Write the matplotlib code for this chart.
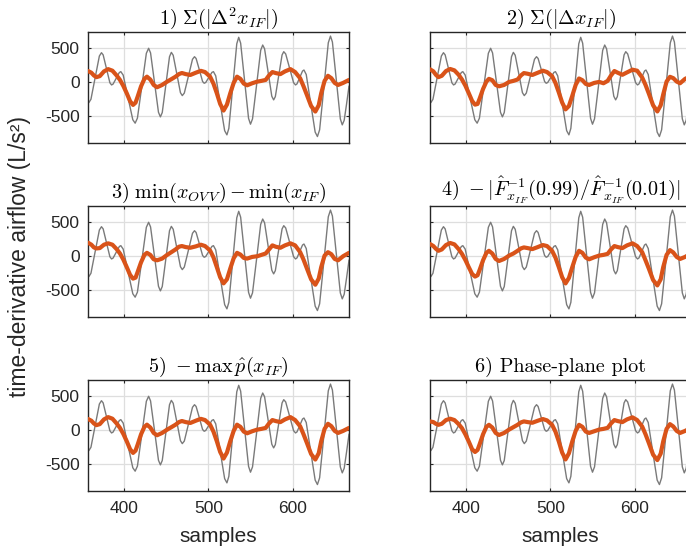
import matplotlib
matplotlib.use("Agg")
import matplotlib.pyplot as plt

plt.rcParams['font.family'] = ['Liberation Sans', 'DejaVu Sans']
plt.rcParams['mathtext.fontset'] = 'cm'
plt.rcParams['axes.unicode_minus'] = False

# ---------------- data ----------------
titles = [
    r'$1)\ \Sigma(|\Delta^2 x_{IF}|)$',
    r'$2)\ \Sigma(|\Delta x_{IF}|)$',
    r'$3)\ \min(x_{OV\,V}) - \min(x_{IF})$',
    r'$4)\ -|\hat{F}^{-1}_{x_{IF}}(0.99)/\hat{F}^{-1}_{x_{IF}}(0.01)|$',
    r'$5)\ -\max\,\hat{p}(x_{IF})$',
    '6) Phase-plane plot',
]

gray_x = [357, 358, 360.5, 365.5, 370.5, 373, 375, 379, 383, 385, 386.8, 390.5, 394.2, 396,
          398.8, 404.5, 410.2, 413, 415.7, 421, 426.3, 429, 431.3, 436, 440.7, 443, 445.2,
          449.5, 453.8, 456, 458.2, 462.5, 466.8, 469, 471.4, 476.3, 481.1, 483.5, 485.4,
          489.3, 493.1, 495, 496.8, 500.5, 504.2, 506, 508.7, 514, 519.3, 522, 524.3, 529,
          533.7, 536, 538.3, 543, 547.7, 550, 552.4, 557.3, 562.1, 564.5, 566.7, 571, 575.3,
          577.5, 579.5, 583.5, 587.5, 589.5, 591.8, 596.5, 601.2, 603.5, 605.2, 608.5, 611.8,
          613.5, 616.2, 621.5, 626.8, 629.5, 632.1, 637.3, 642.4, 645, 647.3, 652, 656.7, 659,
          661.3, 664, 667]
gray_y = [-298, -300, -251, 68, 386, 435, 403, 198, -8, -40, -27, 58, 143, 156,
          105, -224, -552, -603, -529, -52, 426, 500, 432, -5, -442, -510, -446,
          -35, 376, 440, 397, 122, -154, -197, -159, 90, 338, 376, 350,
          181, 11, -15, -4, 71, 145, 156, 94, -310, -713, -775, -679, -57,
          566, 662, 576, 22, -532, -618, -540, -35, 470, 548, 494, 144, -206,
          -260, -212, 95, 402, 450, 417, 205, -7, -40, -25, 70, 165,
          180, 114, -310, -734, -800, -701, -60, 581, 680, 592, 26, -540, -628,
          -560, -330, -60]

orange_x = [357, 361, 364, 367, 371, 376, 381, 386, 391, 395,
            399, 403, 407, 410.5, 413.5, 416, 420, 424, 427, 431,
            435, 439, 445, 451, 456, 461, 465, 468.5, 473, 478.5,
            485, 491, 496, 502, 506, 510, 514, 518, 522, 526,
            530, 534, 538, 542, 546, 552, 558, 563, 568, 572,
            576, 580, 585.5, 591, 597.5, 603, 609, 613, 617, 622,
            627, 631, 634, 638, 642, 646, 650, 654, 660, 667]

orange_1 = [166, 140, 100, 75, 90, 160, 193, 170, 100, 34,
            -55, -162, -280, -334, -300, -211, -60, 50, 82, 40,
            -40, -74, -40, 9, 45, 82, 120, 136, 120, 107,
            140, 168, 150, 82, -20, -162, -320, -417, -330, -162,
            -10, 82, 50, -20, -45, -15, 9, 20, 34, 100,
            150, 135, 120, 160, 193, 150, 58, -60, -187, -350,
            -432, -340, -162, 20, 95, 60, -10, -40, -10, 34]
orange_2 = [191, 160, 110, 75, 95, 165, 195, 175, 110, 40,
            -50, -160, -275, -330, -320, -240, -100, 10, 50, 30,
            -40, -60, -40, 5, 20, 40, 100, 135, 125, 107,
            140, 170, 150, 90, -10, -150, -300, -400, -350, -200,
            -40, 55, 30, -25, -40, -10, 5, -15, 20, 100,
            165, 140, 110, 145, 185, 170, 70, -40, -170, -340,
            -430, -340, -180, 10, 80, 60, 10, -15, 50, 90]
orange_3 = [200, 170, 130, 115, 120, 170, 190, 170, 105, 40,
            -50, -160, -275, -330, -315, -230, -90, 20, 50, 20,
            -45, -60, -35, 20, 60, 100, 140, 150, 135, 125,
            145, 170, 150, 85, -15, -160, -310, -400, -340, -180,
            -30, 50, 25, -25, -35, -10, 0, 20, 40, 100,
            160, 140, 125, 160, 190, 160, 60, -50, -180, -340,
            -420, -330, -160, 10, 60, 30, -40, -60, 0, 50]
orange_4 = [180, 150, 110, 80, 100, 165, 195, 175, 105, 35,
            -55, -160, -260, -300, -280, -200, -60, 50, 80, 40,
            -40, -70, -40, 10, 40, 80, 115, 130, 120, 105,
            135, 165, 150, 80, -20, -160, -310, -400, -320, -160,
            -10, 80, 50, -20, -45, -15, 10, 20, 35, 100,
            150, 135, 120, 160, 190, 150, 60, -60, -185, -350,
            -430, -340, -160, 20, 90, 55, -10, -40, -10, 40]
orange_5 = list(orange_1)
orange_6 = [130, 120, 95, 80, 95, 150, 170, 150, 90, 30,
            -60, -165, -280, -320, -290, -205, -60, 50, 80, 40,
            -40, -70, -40, 10, 45, 80, 115, 130, 120, 110,
            140, 165, 145, 80, -20, -165, -330, -430, -340, -165,
            -10, 80, 50, -20, -40, -15, 10, 20, 35, 100,
            150, 135, 120, 160, 190, 150, 55, -60, -190, -360,
            -440, -345, -165, 20, 90, 55, -10, -40, -10, 34]
orange_series = [orange_1, orange_2, orange_3, orange_4, orange_5, orange_6]

x_ticks = [400, 500, 600]
y_ticks = [-500, 0, 500]
y_ticklabels = ['-500', '0', '500']

# ---------------- figure ----------------
W, H = 686, 552
fig = plt.figure(figsize=(W / 100, H / 100), dpi=100)

col_left = [88, 430]
row_top = [32, 206, 380]
ax_w, ax_h = 261, 111

gray_col = '#7a7a7a'
orange_col = '#D95319'
text_col = '#262626'

for i in range(6):
    r, c = divmod(i, 2)
    l = col_left[c] / W
    b = 1 - (row_top[r] + ax_h) / H
    ax = fig.add_axes([l, b, ax_w / W, ax_h / H])
    ax.plot(gray_x, gray_y, color=gray_col, lw=1.0, zorder=2)
    ax.plot(orange_x, orange_series[i], color=orange_col, lw=3.0,
            solid_joinstyle='round', solid_capstyle='round', zorder=3)
    ax.set_xlim(357, 667)
    ax.set_ylim(-895, 740)
    ax.set_xticks(x_ticks)
    ax.set_yticks(y_ticks)
    ax.grid(True, color='#dedede', lw=0.9, zorder=0)
    ax.set_axisbelow(True)
    ax.tick_params(direction='in', length=2.3, width=0.8, top=True, right=True,
                   colors=text_col, labelsize=12.5)
    ax.tick_params(axis='y', pad=6)
    ax.tick_params(axis='x', pad=7)
    for s in ax.spines.values():
        s.set_color(text_col)
        s.set_linewidth(1.0)
    if c == 0:
        ax.set_yticklabels(y_ticklabels)
    else:
        ax.set_yticklabels([])
    if r == 2:
        ax.set_xticklabels([str(t) for t in x_ticks])
        ax.set_xlabel('samples', fontsize=15, color=text_col, labelpad=8)
    else:
        ax.set_xticklabels([])
    if i == 5:
        ax.set_title(titles[i], fontsize=14.5, family='cmr10', pad=6, color='black')
    else:
        ax.set_title(titles[i], fontsize=14.5, pad=6, color='black')

fig.text(20 / W, 1 - 256 / H, 'time-derivative airflow (L/s²)', rotation=90,
         ha='center', va='center', fontsize=16.5, color=text_col)

fig.savefig('out.png', dpi=100)
